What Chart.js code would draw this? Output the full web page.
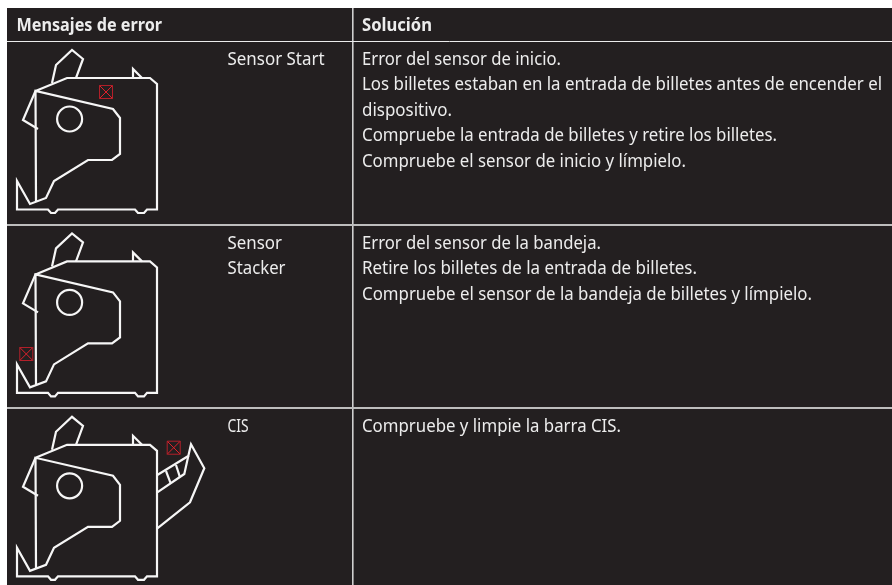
<!DOCTYPE html>
<html>
<head>
<meta charset="utf-8">
<title>Mensajes de error</title>
<script src="https://cdn.jsdelivr.net/npm/chart.js"></script>
<style>
  html, body { margin: 0; padding: 0; background: #fff; }
  #wrap { width: 892px; height: 585px; }
</style>
</head>
<body>
<div id="wrap"><canvas id="tabla" width="892" height="585"></canvas></div>
<script>
// table text
const headers = ['Mensajes de error', 'Solución'];
const errorNames = [['Sensor Start'], ['Sensor', 'Stacker'], ['CIS']];
const solutions = [
  ['Error del sensor de inicio.',
   'Los billetes estaban en la entrada de billetes antes de encender el',
   'dispositivo.',
   'Compruebe la entrada de billetes y retire los billetes.',
   'Compruebe el sensor de inicio y límpielo.'],
  ['Error del sensor de la bandeja.',
   'Retire los billetes de la entrada de billetes.',
   'Compruebe el sensor de la bandeja de billetes y límpielo.'],
  ['Compruebe y limpie la barra CIS.']
];

// table rules, in pixels of the picture
const rowLines = [41.5, 225, 408];
const columnLines = [352.5];
const rowTops = [41, 225, 408];

// device drawing, as seen in the first row
const flap = [[52, 83], [56, 65], [72, 50], [83, 59], [76, 78]];
const body = [[35.5, 91], [67, 78], [150, 78], [157, 84], [157, 209.5], [147, 209.5], [144, 213], [138, 213], [135, 209.5],
  [58, 209.5], [55, 213], [51, 213], [48, 209.5], [17, 209.5], [17, 181], [30, 204], [46, 198], [54, 181], [88, 160],
  [112, 160], [120, 154], [120, 118], [113, 109], [35.5, 91], [36, 201]];
const sideFlap = [[35.5, 91], [23, 120], [38, 129]];
const notch = [[133, 78], [133, 69], [142, 78]];
const lens = [[69.6, 119]];
const iconShifts = [0, 183.4, 366.8];

// extra tray in the third row
const trayOuter = [[157.3, 108.2], [188.3, 89.2], [191, 77.5], [204.3, 101.5], [190, 135.5], [157.3, 161.5]];
const trayInner = [[157.3, 125.5], [184.3, 107.2], [188.3, 89.2]];
const trayBarA = [[166, 104.2], [170.7, 116.5]];
const trayBarB = [[176, 98.2], [180, 110.5]];

// red sensor marks
const sensorMarks = [[106, 92], [26.3, 354], [173.7, 447.7]];

const toPoints = (list, dy) => list.map(p => ({ x: p[0], y: p[1] + dy }));

function lineSet(list, dy) {
  return {
    data: toPoints(list, dy),
    showLine: true,
    borderColor: '#f6f6f6',
    borderWidth: 2.2,
    borderJoinStyle: 'miter',
    pointRadius: 0,
    fill: false
  };
}

const datasets = [];
iconShifts.forEach(dy => {
  [flap, body, sideFlap, notch].forEach(part => datasets.push(lineSet(part, dy)));
  datasets.push({
    data: toPoints(lens, dy),
    pointStyle: 'circle',
    pointRadius: 12.5,
    pointBorderWidth: 2.2,
    pointBorderColor: '#f6f6f6',
    pointBackgroundColor: 'transparent'
  });
});
[trayOuter, trayInner, trayBarA, trayBarB].forEach(part => datasets.push(lineSet(part, iconShifts[2])));

datasets.push({
  data: toPoints(sensorMarks, 0),
  pointStyle: 'rect',
  pointRadius: 9.2,
  pointBorderWidth: 1,
  pointBorderColor: '#b3202a',
  pointBackgroundColor: 'transparent'
});
datasets.push({
  data: toPoints(sensorMarks, 0),
  pointStyle: 'crossRot',
  pointRadius: 9.2,
  pointBorderWidth: 1,
  pointBorderColor: '#e0202a',
  pointBackgroundColor: 'transparent'
});

const bodyFont = '18.5px "Noto Sans"';
const boldFont = 'bold 18.5px "Noto Sans"';
const textColor = '#ececec';

// measured widths of each text line in the reference
const headerSpots = [[16.5, 31, 145.5], [362, 31, 70]];
const nameWidths = [[97], [54.5, 58], [21]];
const solutionWidths = [[199, 520, 90, 415, 324], [239, 335, 450], [259]];
const nameX = 227.5;
const solutionX = 362;
const firstBaseline = 24;
const linePitch = 25.4;

function fitText(ctx, text, x, y, w) {
  ctx.save();
  ctx.translate(x, y);
  ctx.scale(w / ctx.measureText(text).width, 1);
  ctx.fillText(text, 0, 0);
  ctx.restore();
}

const tablePlugin = {
  id: 'tablePlugin',
  beforeDraw(chart) {
    const { ctx, chartArea: a } = chart;
    ctx.save();
    ctx.fillStyle = '#231f20';
    ctx.fillRect(a.left, a.top, a.right - a.left, a.bottom - a.top);
    ctx.restore();
  },
  afterDraw(chart) {
    const ctx = chart.ctx;
    const px = chart.scales.x;
    const py = chart.scales.y;
    ctx.save();
    ctx.fillStyle = textColor;
    ctx.textBaseline = 'alphabetic';
    ctx.font = boldFont;
    headers.forEach((h, i) => {
      const s = headerSpots[i];
      fitText(ctx, h, px.getPixelForValue(s[0]), py.getPixelForValue(s[1]), s[2]);
    });
    ctx.font = bodyFont;
    rowTops.forEach((top, r) => {
      errorNames[r].forEach((t, i) => {
        fitText(ctx, t, px.getPixelForValue(nameX), py.getPixelForValue(top + firstBaseline + i * linePitch), nameWidths[r][i]);
      });
      solutions[r].forEach((t, i) => {
        fitText(ctx, t, px.getPixelForValue(solutionX), py.getPixelForValue(top + firstBaseline + i * linePitch), solutionWidths[r][i]);
      });
    });
    ctx.restore();
  }
};

new Chart(document.getElementById('tabla').getContext('2d'), {
  type: 'scatter',
  data: { datasets: datasets },
  plugins: [tablePlugin],
  options: {
    responsive: false,
    animation: false,
    events: [],
    layout: { autoPadding: false, padding: { left: 7, top: 8, right: 0, bottom: 0 } },
    plugins: { legend: { display: false }, tooltip: { enabled: false }, title: { display: false } },
    scales: {
      x: {
        type: 'linear',
        position: 'top',
        min: 7,
        max: 892,
        afterBuildTicks: scale => { scale.ticks = columnLines.map(v => ({ value: v })); },
        ticks: { display: false },
        border: { display: false },
        grid: { drawTicks: false, color: '#cfcfcf', lineWidth: 1.6 }
      },
      y: {
        type: 'linear',
        reverse: true,
        min: 8,
        max: 585,
        afterBuildTicks: scale => { scale.ticks = rowLines.map(v => ({ value: v })); },
        ticks: { display: false },
        border: { display: false },
        grid: {
          drawTicks: false,
          color: ctx => (ctx.index === 0 ? '#ececec' : '#bdbdbd'),
          lineWidth: ctx => (ctx.index === 0 ? 1 : 2)
        }
      }
    }
  }
});
</script>
</body>
</html>
